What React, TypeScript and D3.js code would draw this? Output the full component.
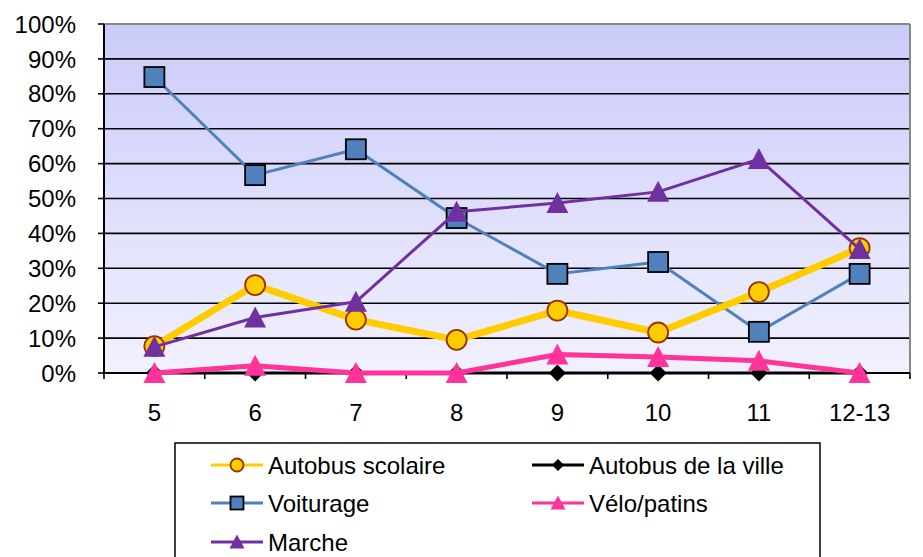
import React from "react";
import * as d3 from "d3";

const categories = ["5", "6", "7", "8", "9", "10", "11", "12-13"];
const autobusScolaire = [7.7, 25.2, 15.3, 9.5, 17.9, 11.6, 23.2, 35.8];
const autobusVille = [0, 0, 0, 0, 0, 0, 0, 0];
const voiturage = [84.8, 56.7, 64.1, 44.4, 28.4, 31.8, 11.8, 28.4];
const veloPatins = [0, 2.1, 0, 0, 5.3, 4.6, 3.5, 0];
const marche = [7.5, 15.9, 20.4, 46.2, 48.7, 51.9, 61.3, 35.5];
const yTicks = [0, 10, 20, 30, 40, 50, 60, 70, 80, 90, 100];

type Series = {
  name: string;
  values: number[];
  color: string;
  width: number;
  marker: "circle" | "square" | "triangle" | "diamond";
  fill: string;
  stroke: string;
};

const series: Series[] = [
  { name: "Autobus de la ville", values: autobusVille, color: "#000000", width: 3, marker: "diamond", fill: "#000000", stroke: "#000000" },
  { name: "Voiturage", values: voiturage, color: "#4F81BD", width: 3, marker: "square", fill: "#4F81BD", stroke: "#000000" },
  { name: "Autobus scolaire", values: autobusScolaire, color: "#FFCC00", width: 7, marker: "circle", fill: "#FFCC00", stroke: "#993300" },
  { name: "Marche", values: marche, color: "#7030A0", width: 3, marker: "triangle", fill: "#7030A0", stroke: "#7030A0" },
  { name: "Vélo/patins", values: veloPatins, color: "#FF3399", width: 5, marker: "triangle", fill: "#FF3399", stroke: "#FF3399" },
];

const legendOrder = ["Autobus scolaire", "Autobus de la ville", "Voiturage", "Vélo/patins", "Marche"];

function Marker({ s, x, y, size }: { s: Series; x: number; y: number; size: number }) {
  const h = size / 2;
  if (s.marker === "circle") return <circle cx={x} cy={y} r={h} fill={s.fill} stroke={s.stroke} strokeWidth={1.8} />;
  if (s.marker === "square") return <rect x={x - h} y={y - h} width={size} height={size} fill={s.fill} stroke={s.stroke} strokeWidth={1.8} />;
  if (s.marker === "diamond") return <path d={`M${x},${y - h}L${x + h},${y}L${x},${y + h}L${x - h},${y}Z`} fill={s.fill} />;
  return <path d={`M${x},${y - h - 1}L${x + h + 1},${y + h}L${x - h - 1},${y + h}Z`} fill={s.fill} />;
}

export default function App() {
  const W = 923, H = 557;
  const left = 104, right = 910, top = 24, bottom = 373;
  const x = d3.scaleBand<string>().domain(categories).range([left, right]);
  const y = d3.scaleLinear().domain([0, 100]).range([bottom, top]);
  const cx = (c: string) => (x(c) as number) + x.bandwidth() / 2;
  const line = d3.line<number>().x((_, i) => cx(categories[i])).y((v) => y(v));
  const font = "Arial, 'Liberation Sans', sans-serif";

  const legendCols = [211, 532];
  const legendRows = [465, 503, 542];

  return (
    <svg width={W} height={H} style={{ position: "absolute", left: 0, top: 0 }} fontFamily={font}>
      <defs>
        <linearGradient id="bg" x1="0" y1="0" x2="0" y2="1">
          <stop offset="0" stopColor="#CBCBFA" />
          <stop offset="1" stopColor="#F1F1FE" />
        </linearGradient>
      </defs>
      <rect x={0} y={0} width={W} height={H} fill="#fff" />
      <rect x={left} y={top} width={right - left} height={bottom - top} fill="url(#bg)" />
      {yTicks.slice(1).map((t) => (
        <line key={t} x1={left} x2={right} y1={y(t)} y2={y(t)} stroke={t === 100 ? "#888" : "#000"} strokeWidth={t === 100 ? 2 : 1.6} />
      ))}
      <line x1={right} x2={right} y1={top} y2={bottom} stroke="#888" strokeWidth={2} />
      <line x1={left} x2={left} y1={top} y2={bottom + 1} stroke="#000" strokeWidth={2} />
      {yTicks.map((t) => (
        <g key={t}>
          <line x1={left - 6} x2={left} y1={y(t)} y2={y(t)} stroke="#000" strokeWidth={1.6} />
          <text x={76} y={y(t)} dy="0.36em" textAnchor="end" fontSize={24} fill="#000">{t}%</text>
        </g>
      ))}
      <line x1={left} x2={right} y1={bottom} y2={bottom} stroke="#000" strokeWidth={2} />
      {categories.map((c, i) => (
        <g key={c}>
          <line x1={(x(c) as number)} x2={(x(c) as number)} y1={bottom} y2={bottom + 6} stroke="#000" strokeWidth={1.6} />
          <text x={cx(c)} y={bottom + 48} textAnchor="middle" fontSize={24} fill="#000">{c}</text>
          {i === categories.length - 1 && (
            <line x1={right} x2={right} y1={bottom} y2={bottom + 6} stroke="#000" strokeWidth={1.6} />
          )}
        </g>
      ))}
      {series.map((s) => (
        <g key={s.name}>
          <path d={line(s.values) as string} fill="none" stroke={s.color} strokeWidth={s.width} strokeLinejoin="round" />
          {s.values.map((v, i) => (
            <Marker key={i} s={s} x={cx(categories[i])} y={y(v)} size={s.marker === "diamond" ? 17 : 20} />
          ))}
        </g>
      ))}
      <rect x={175} y={443} width={645} height={130} fill="#fff" stroke="#000" strokeWidth={1.5} />
      {legendOrder.map((name, k) => {
        const s = series.find((d) => d.name === name)!;
        const lx = legendCols[k % 2];
        const ly = legendRows[Math.floor(k / 2)];
        return (
          <g key={name}>
            <line x1={lx} x2={lx + 52} y1={ly} y2={ly} stroke={s.color} strokeWidth={3} />
            <Marker s={s} x={lx + 26} y={ly} size={s.marker === "diamond" ? 12 : 13} />
            <text x={lx + 57} y={ly} dy="0.36em" fontSize={24} fill="#000">{name}</text>
          </g>
        );
      })}
    </svg>
  );
}
